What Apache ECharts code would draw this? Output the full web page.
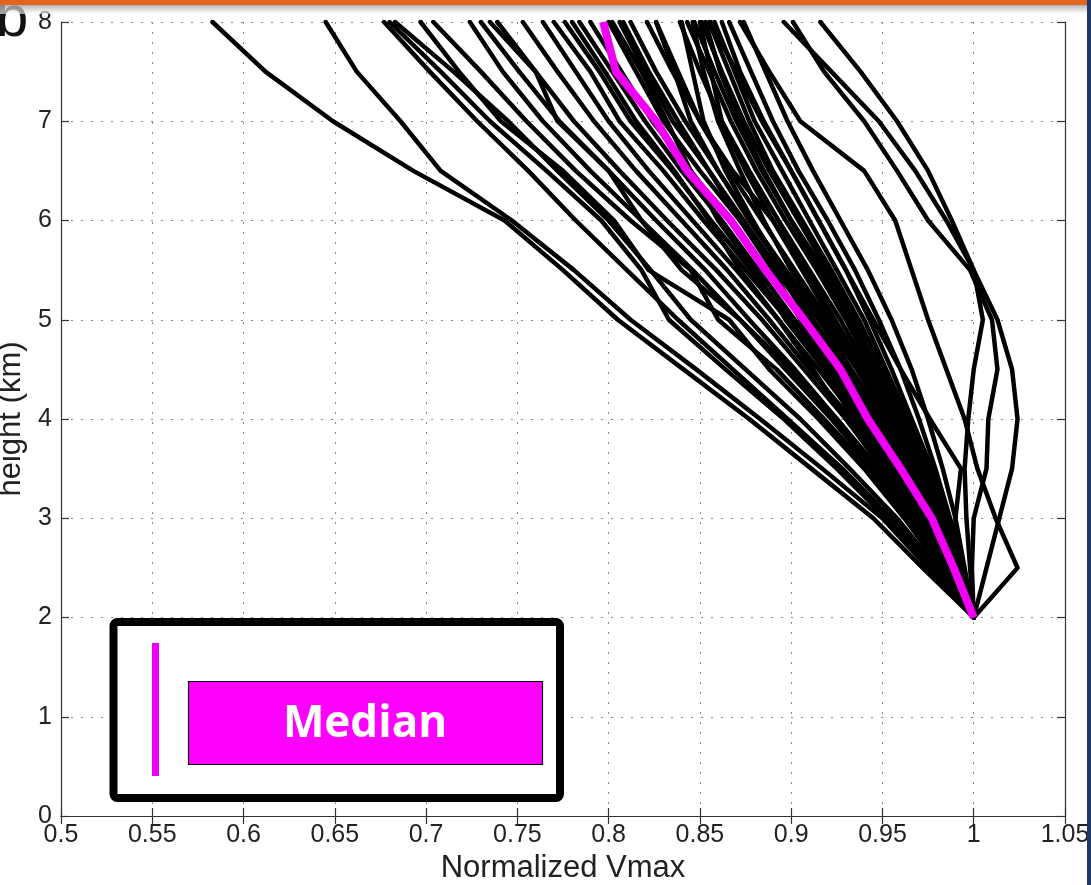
<!DOCTYPE html>
<html>
<head>
<meta charset="utf-8">
<script src="https://cdn.jsdelivr.net/npm/echarts@6/dist/echarts.min.js"></script>
<style>
html,body{margin:0;padding:0;background:#fff;}
#chart{width:1091px;height:885px;}
</style>
</head>
<body>
<div id="chart"></div>
<script>
// Heights (km) at which each profile is sampled
const heights = [2, 2.5, 3, 3.5, 4, 4.5, 5, 5.5, 6, 6.5, 7, 7.5, 8];

// Normalized Vmax profiles (values at each height above)
const p01 = [1, .972, .945, .911, .877, .841, .805, .775, .743, .693, .649, .612, .583];
const p02 = [1, .975, .950, .917, .883, .848, .812, .781, .747, .708, .686, .662, .645];
const p03 = [1, .978, .955, .928, .898, .868, .838, .810, .782, .756, .728, .702, .677];
const p04 = [1, .976, .952, .925, .896, .864, .833, .818, .796, .766, .735, .708, .680];
const p05 = [1, .980, .958, .932, .905, .875, .845, .823, .800, .772, .745, .715, .683];
const p06 = [1, .982, .962, .940, .915, .888, .866, .822, .803, .775, .741, .718, .697];
const p07 = [1, .983, .964, .943, .918, .892, .860, .845, .812, .782, .755, .730, .704];
const p08 = [1, .984, .965, .945, .922, .897, .872, .846, .818, .790, .764, .742, .724];
const p09 = [1, .985, .967, .947, .925, .902, .877, .853, .826, .800, .773, .751, .730];
const p10 = [1, .986, .966, .948, .925, .900, .872, .840, .818, .800, .772, .760, .735];
const p11 = [1, .986, .968, .950, .930, .907, .884, .859, .832, .806, .781, .760, .739];
const p12 = [1, .985, .969, .952, .933, .910, .888, .865, .840, .815, .792, .772, .753];
const p13 = [1, .987, .971, .955, .936, .915, .893, .870, .846, .822, .800, .782, .764];
const p14 = [1, .986, .970, .953, .934, .918, .898, .875, .852, .830, .806, .790, .770];
const p15 = [1, .988, .973, .957, .939, .920, .900, .878, .856, .835, .812, .795, .776];
const p16 = [1, .987, .972, .958, .942, .922, .902, .882, .862, .840, .820, .802, .784];
const p17 = [1, .989, .975, .960, .944, .926, .907, .886, .866, .845, .824, .807, .790];
const p18 = [1, .988, .976, .962, .947, .930, .912, .893, .874, .855, .835, .820, .806];
const p19 = [1, .990, .977, .964, .950, .933, .916, .897, .878, .860, .842, .826, .812];
const p20 = [1, .990, .978, .966, .952, .937, .920, .902, .884, .866, .850, .835, .821];
const p21 = [1, .991, .980, .969, .956, .942, .927, .910, .893, .877, .862, .850, .839];
const p22 = [1, .990, .979, .968, .957, .944, .930, .914, .897, .881, .867, .855, .843];
const p23 = [1, .992, .982, .971, .959, .946, .932, .916, .900, .884, .870, .858, .847];
const p24 = [1, .991, .981, .970, .958, .947, .935, .920, .904, .888, .874, .862, .851];
const p25 = [1, .992, .983, .973, .962, .950, .937, .922, .906, .890, .877, .866, .855];
const p26 = [1, .993, .985, .975, .964, .952, .940, .925, .910, .895, .880, .869, .858];
const p27 = [1, .990, .980, .967, .953, .938, .922, .906, .890, .875, .862, .856, .850];
const p28 = [1, .994, .986, .977, .966, .955, .943, .930, .915, .900, .884, .870, .856];
const p29 = [1, 1.024, 1.012, 1.002, .995, .985, .975, .966, .957, .940, .905, .888, .872];
const p30 = [1, 1.007, 1.014, 1.021, 1.024, 1.021, 1.013, 1.000, .985, .968, .948, .922, .896];
const p31 = [1, .999, 1.000, 1.007, 1.008, 1.013, 1.010, .998, .975, .958, .940, .918, .901];
const p32 = [1, .998, .996, .995, .997, 1.000, 1.005, 1.000, .988, .975, .958, .938, .916];
const p33 = [1, .990, .990, .993, .976, .960, .945, .930, .915, .900, .885, .872, .862];
const p34 = [1, .994, .987, .979, .970, .960, .948, .935, .920, .904, .890, .878, .866];
const p35 = [1, .995, .990, .983, .975, .966, .955, .942, .927, .912, .898, .886, .874];
const p36 = [1, .988, .976, .962, .948, .932, .915, .896, .877, .860, .845, .836, .826];
const p37 = [1, .987, .973, .958, .940, .924, .905, .890, .872, .855, .838, .822, .808];
const p38 = [1, .989, .978, .963, .945, .928, .912, .895, .879, .864, .852, .846, .840];
const p39 = [1, .991, .979, .965, .952, .936, .918, .900, .885, .872, .860, .852, .846];
const p40 = [1, .986, .972, .955, .938, .918, .897, .880, .860, .845, .832, .818, .802];
const p41 = [1, .984, .968, .951, .930, .912, .893, .872, .855, .836, .815, .798, .780];
const p42 = [1, .988, .975, .960, .943, .925, .910, .892, .872, .850, .830, .815, .800];
const p43 = [1, .992, .984, .972, .960, .948, .933, .918, .900, .885, .872, .861, .853];
const p44 = [1, .990, .980, .968, .954, .940, .924, .908, .890, .868, .850, .838, .826];

const median = [1, .989, .977, .960, .942, .927, .907, .886, .867, .843, .826, .804, .797];

const profiles = [p01,p02,p03,p04,p05,p06,p07,p08,p09,p10,p11,p12,p13,p14,p15,p16,p17,p18,
                  p19,p20,p21,p22,p23,p24,p25,p26,p27,p28,p29,p30,p31,p32,p33,p34,p35,p36,
                  p37,p38,p39,p40,p41,p42,p43,p44];

const legendLabel = 'Median';
const xName = 'Normalized Vmax';
const yName = 'height (km)';
const panelLabel = 'b';

const toPts = arr => arr.map((x, i) => [x, heights[i]]);

const series = profiles.map(p => ({
  type: 'line', data: toPts(p), symbol: 'none', silent: true,
  lineStyle: {color: '#000', width: 4.5, join: 'round', cap: 'round'},
  z: 2
}));
series.push({
  type: 'line', data: toPts(median), symbol: 'none', silent: true,
  lineStyle: {color: '#f000f5', width: 8, join: 'round', cap: 'butt'},
  z: 3
});

const FONT = '"Liberation Sans", Arial, Helvetica, sans-serif';
const gridSplit = {show: true, lineStyle: {color: '#8a8a8a', width: 1, type: [2, 8]}};
const axLine = {show: true, lineStyle: {color: '#333', width: 1.2}};
const ticks = {show: true, inside: true, length: 8, lineStyle: {color: '#333', width: 1.2}};

const chart = echarts.init(document.getElementById('chart'), null, {renderer: 'canvas'});
chart.setOption({
  animation: false,
  backgroundColor: '#fff',
  grid: {left: 61, right: 26, top: 22, bottom: 69, show: false, containLabel: false, outerBoundsMode: 'none'},
  xAxis: [{
    type: 'value', min: 0.5, max: 1.05, interval: 0.05, position: 'bottom',
    axisLine: axLine, axisTick: ticks, splitLine: gridSplit,
    axisLabel: {color: '#222', fontSize: 25, fontFamily: FONT, margin: 7},
    name: xName, nameLocation: 'middle', nameGap: 35,
    nameTextStyle: {color: '#222', fontSize: 31, fontFamily: FONT}
  }, {
    type: 'value', min: 0.5, max: 1.05, interval: 0.05, position: 'top',
    axisLine: axLine, axisTick: ticks, splitLine: {show: false}, axisLabel: {show: false}
  }],
  yAxis: [{
    type: 'value', min: 0, max: 8, interval: 1, position: 'left',
    axisLine: axLine, axisTick: ticks, splitLine: gridSplit,
    axisLabel: {color: '#222', fontSize: 25, fontFamily: FONT, margin: 9},
    name: yName, nameLocation: 'middle', nameGap: 30, nameRotate: 90,
    nameTextStyle: {color: '#222', fontSize: 31, fontFamily: FONT}
  }, {
    type: 'value', min: 0, max: 8, interval: 1, position: 'right',
    axisLine: axLine, axisTick: ticks, splitLine: {show: false}, axisLabel: {show: false}
  }],
  series: series,
  graphic: [
    // panel label, mostly cut off (drawn under the slide decoration)
    {type: 'text', left: -4, top: -9, style: {text: panelLabel, fill: '#111', font: '58px ' + FONT}, z: 9},
    // slide decoration: orange bar at top with shadow, dark blue strip at right
    {type: 'rect', left: 0, top: 4, shape: {width: 1088, height: 10},
     style: {fill: new echarts.graphic.LinearGradient(0, 0, 0, 1, [
       {offset: 0, color: 'rgba(150,150,150,0.85)'}, {offset: 1, color: 'rgba(255,255,255,0.6)'}])}, z: 10},
    {type: 'rect', left: 0, top: 0, shape: {width: 1087, height: 5}, style: {fill: '#e0661c'}, z: 11},
    {type: 'rect', left: 1087, top: 0, shape: {width: 4, height: 885}, style: {fill: '#1f3864'}, z: 11},
    // legend box
    {type: 'rect', shape: {x: 113.5, y: 622, width: 446.5, height: 176, r: 4},
     style: {fill: '#fff', stroke: '#000', lineWidth: 8}, z: 20},
    {type: 'line', shape: {x1: 155.5, y1: 643, x2: 155.5, y2: 776},
     style: {stroke: '#f000f5', lineWidth: 7}, z: 21},
    {type: 'rect', shape: {x: 188.5, y: 681.5, width: 354, height: 83},
     style: {fill: '#ff00ff', stroke: '#000', lineWidth: 1.2}, z: 21},
    {type: 'text', x: 365, y: 724, style: {text: legendLabel, fill: '#fff',
      font: 'bold 44px "Open Sans", "Noto Sans", sans-serif', textAlign: 'center', textVerticalAlign: 'middle'}, z: 22}
  ]
});
</script>
</body>
</html>
